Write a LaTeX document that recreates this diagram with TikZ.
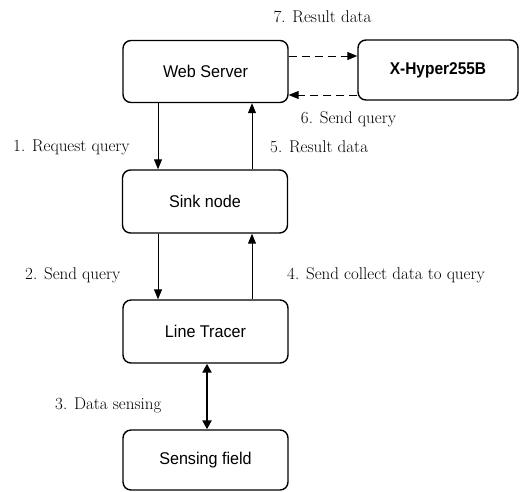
\documentclass[tikz,border=0pt]{standalone}
\usepackage{fontspec}
\setmainfont{Latin Modern Roman}
\newfontfamily\boxfont[FakeStretch=0.95]{Liberation Sans}
\newfontfamily\boxboldfont[FakeStretch=0.91]{Liberation Sans Bold}
\usetikzlibrary{arrows.meta}
\begin{document}
\begin{tikzpicture}[x=1pt,y=1pt,
  box/.style={draw, line width=1.4pt, rounded corners=8pt, minimum width=165pt, minimum height=62pt, font=\boxfont\fontsize{17}{19}\selectfont, inner sep=0pt},
  lbl/.style={font=\fontsize{17}{20}\selectfont, inner sep=0pt},
  arr/.style={line width=1pt, -{Triangle[length=10pt,width=8pt]}},
  darr/.style={line width=1pt, dash pattern=on 8pt off 5pt, -{Triangle[length=10pt,width=8pt]}},
  barr/.style={line width=2.6pt, {Triangle[length=9pt,width=9pt]}-{Triangle[length=9pt,width=9pt]}}
]
\useasboundingbox (0,0) rectangle (526,-491);
\node[box] (ws) at (205.5,-71.5) {Web Server};
\node[box, minimum width=160pt, minimum height=60pt, font=\boxboldfont\fontsize{17}{19}\selectfont] (xh) at (438,-70) {X-Hyper255B};
\node[box, minimum height=63pt] (sink) at (205,-201.5) {Sink node};
\node[box, minimum height=63pt] (lt) at (205.5,-331.5) {Line Tracer};
\node[box, minimum height=60pt] (sf) at (205.5,-460) {Sensing field};

\coordinate (xl) at (158,0);
\coordinate (xr) at (252,0);
\coordinate (yt) at (0,-56);
\coordinate (yb) at (0,-95);
\coordinate (xm) at (207,0);

\draw[arr] (ws.south -| xl) -- (sink.north -| xl);
\draw[arr] (sink.north -| xr) -- (ws.south -| xr);
\draw[arr] (sink.south -| xl) -- (lt.north -| xl);
\draw[arr] (lt.north -| xr) -- (sink.south -| xr);
\draw[barr] (lt.south -| xm) -- (sf.north -| xm);
\draw[darr] (ws.east |- yt) -- (xh.west |- yt);
\draw[darr] (xh.west |- yb) -- (ws.east |- yb);

\node[lbl] (l7) at (322.5,-17) {7. Result data};
\node[lbl] (l6) at (348.5,-119) {6. Send query};
\node[lbl, anchor=west] (l1) at (13,-147) {1. Request query};
\node[lbl, anchor=west] (l5) at (270,-147) {5. Result data};
\node[lbl, anchor=west] (l2) at (25,-275) {2. Send query};
\node[lbl, anchor=west] (l4) at (287,-275) {4. Send collect data to query};
\node[lbl, anchor=west] (l3) at (55,-405) {3. Data sensing};
\end{tikzpicture}
\end{document}
